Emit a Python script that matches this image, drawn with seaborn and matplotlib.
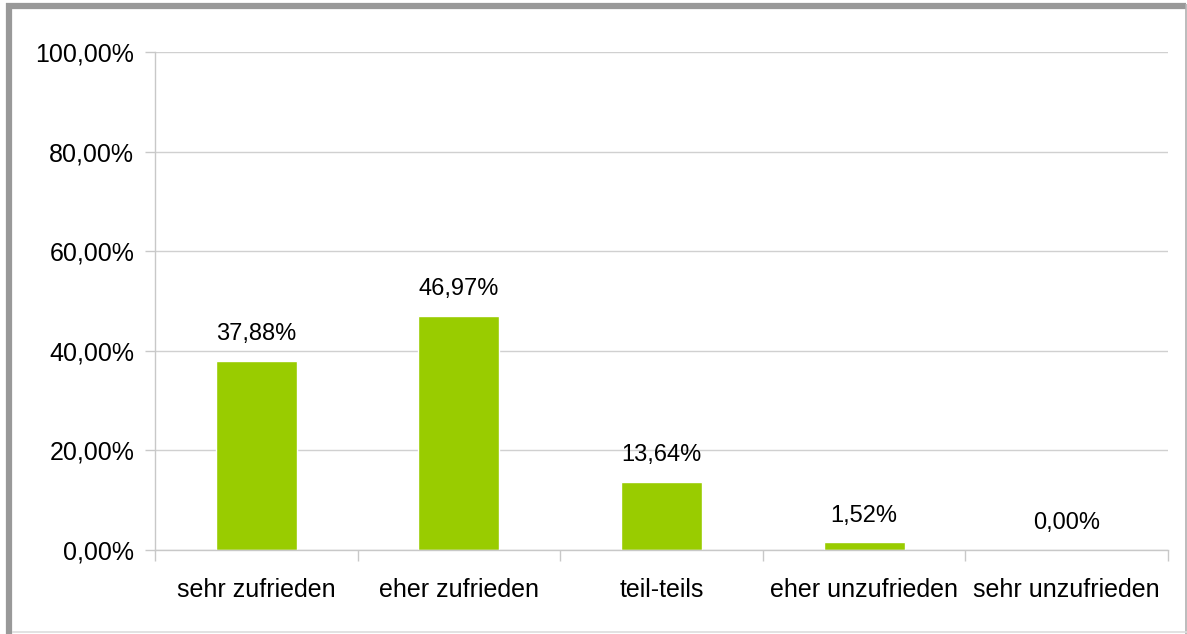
import numpy as np
import pandas as pd
import seaborn as sns
import matplotlib.pyplot as plt
from matplotlib.lines import Line2D
from matplotlib.ticker import FuncFormatter

# Data
categories = ["sehr zufrieden", "eher zufrieden", "teil-teils", "eher unzufrieden", "sehr unzufrieden"]
values = [37.88, 46.97, 13.64, 1.52, 0.00]
y_ticks = [0, 20, 40, 60, 80, 100]

df = pd.DataFrame({"category": categories, "value": values})

sns.set_style("white")
plt.rcParams["font.family"] = ["Liberation Sans", "DejaVu Sans"]
plt.rcParams["text.color"] = "black"

W, H = 1187, 634
fig = plt.figure(figsize=(W / 100, H / 100), dpi=100)
ax = fig.add_axes([155 / W, 1 - 550 / H, (1168 - 155) / W, (550 - 52) / H])

sns.barplot(data=df, x="category", y="value", color="#99cc00", width=0.4,
            saturation=1, ax=ax)

ax.set_xlim(-0.5, len(categories) - 0.5)
ax.set_ylim(0, 100)
ax.set_yticks(y_ticks)
ax.yaxis.set_major_formatter(FuncFormatter(lambda v, p: f"{v:.2f}%".replace(".", ",")))
ax.grid(axis="y", color="#d0d0d0", linewidth=1)
ax.set_axisbelow(True)
ax.set_xlabel("")
ax.set_ylabel("")

for side in ["top", "right"]:
    ax.spines[side].set_visible(False)
for side in ["left", "bottom"]:
    ax.spines[side].set_color("#c8c8c8")
    ax.spines[side].set_linewidth(1)

# category boundary ticks on the x axis
ax.set_xticks(np.arange(len(categories) + 1) - 0.5, minor=True)
ax.tick_params(axis="x", which="minor", length=8, color="#c8c8c8", width=1, bottom=True)
ax.tick_params(axis="x", which="major", length=0, pad=20, labelsize=18, labelcolor="black")
ax.tick_params(axis="y", length=7, color="#c8c8c8", width=1, pad=8, labelsize=18,
               labelcolor="black", left=True)

for i, v in enumerate(values):
    ax.text(i, v + 5.4, f"{v:.2f}%".replace(".", ","), ha="center", va="center",
            fontsize=17, color="black")

# outer frame: thick grey on left and top, thin on right and bottom
def px(x, y):
    return x / W, 1 - y / H

frame = [
    ((9, 3), (9, 634), "#999999", 4.5),
    ((6, 6), (1186, 6), "#999999", 4.5),
    ((1186, 4), (1186, 634), "#b0b0b0", 1.2),
    ((12, 632), (1187, 632), "#dddddd", 1.2),
]
for (x0, y0), (x1, y1), c, lw in frame:
    a, b = px(x0, y0)
    c1, d = px(x1, y1)
    fig.lines.append(Line2D([a, c1], [b, d], transform=fig.transFigure, color=c,
                            linewidth=lw, solid_capstyle="butt"))

fig.savefig("out.png", dpi=100, facecolor="white")
